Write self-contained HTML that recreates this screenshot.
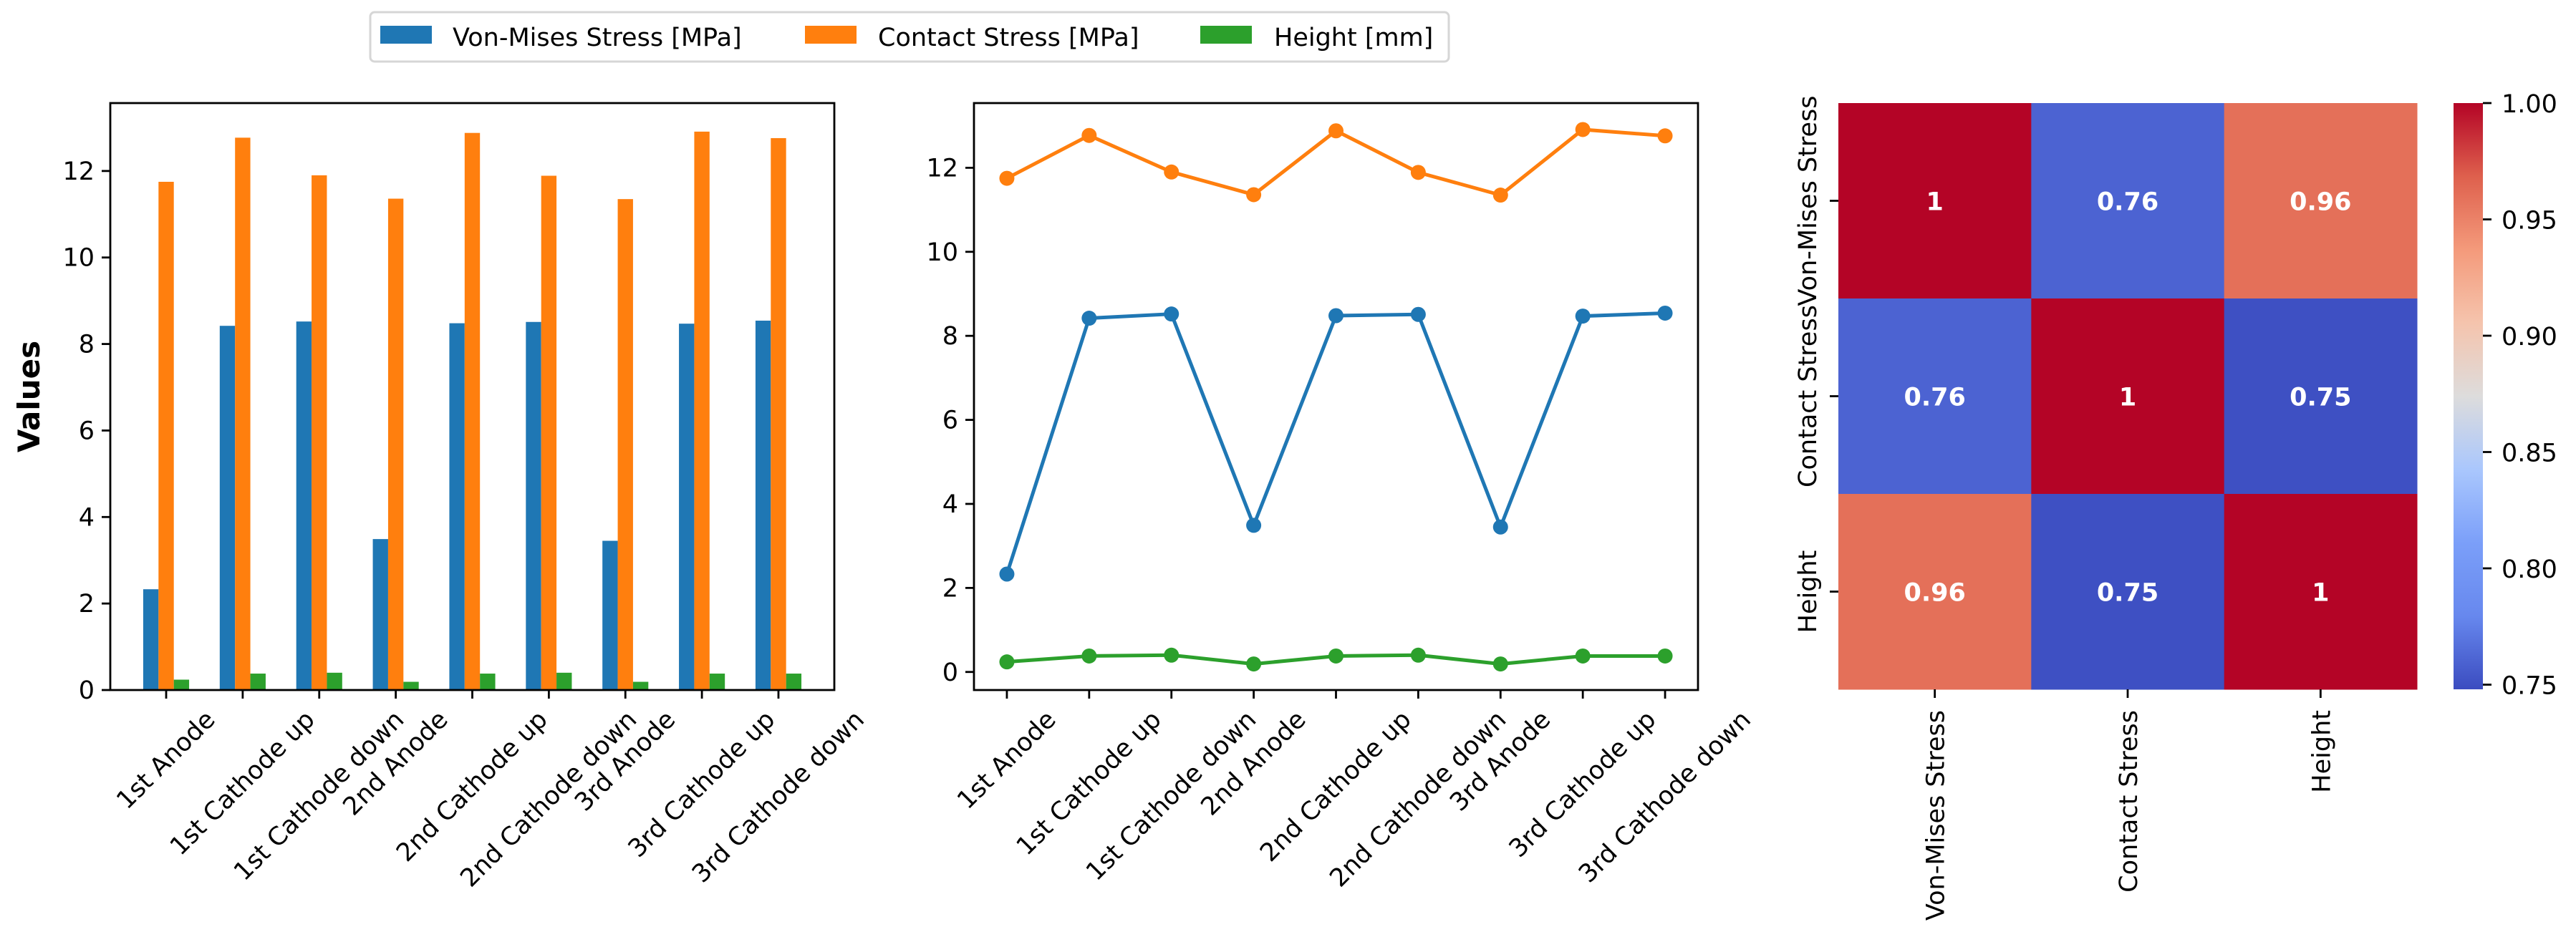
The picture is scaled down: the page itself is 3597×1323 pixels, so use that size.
<!DOCTYPE html>
<html><head><meta charset="utf-8"><style>
html,body{margin:0;padding:0;background:#fff;}
svg{display:block;font-family:"DejaVu Sans","Liberation Sans",sans-serif;}
</style></head><body>
<svg id="fig" width="3597" height="1323" viewBox="0 0 3597 1323" xmlns="http://www.w3.org/2000/svg">
<defs>
<linearGradient id="cw" x1="0" y1="1" x2="0" y2="0">
<stop offset="0" stop-color="rgb(59,76,192)"/><stop offset="0.125" stop-color="rgb(103,136,238)"/><stop offset="0.25" stop-color="rgb(123,159,249)"/><stop offset="0.375" stop-color="rgb(170,199,253)"/><stop offset="0.5" stop-color="rgb(221,220,220)"/><stop offset="0.625" stop-color="rgb(245,196,173)"/><stop offset="0.75" stop-color="rgb(244,154,123)"/><stop offset="0.875" stop-color="rgb(222,96,77)"/><stop offset="1" stop-color="rgb(180,4,38)"/>
</linearGradient>
</defs>
<g>
<rect x="517" y="17" width="1506" height="69" rx="6" fill="#fff" stroke="#d6d6d6" stroke-width="3"/>
<rect x="531" y="36" width="72" height="25" fill="#1f77b4"/>
<text x="632" y="64" font-size="35">Von-Mises Stress [MPa]</text>
<rect x="1124" y="36" width="72" height="25" fill="#ff7f0e"/>
<text x="1226" y="64" font-size="35">Contact Stress [MPa]</text>
<rect x="1676" y="36" width="72" height="25" fill="#2ca02c"/>
<text x="1779" y="64" font-size="35">Height [mm]</text>
</g>
<g id="bar"></g>
<g id="line"></g>
<g id="heat"></g>
</svg>
<script>
const categories = ["1st Anode","1st Cathode up","1st Cathode down","2nd Anode","2nd Cathode up","2nd Cathode down","3rd Anode","3rd Cathode up","3rd Cathode down"];
const vonMises = [2.33,8.42,8.52,3.49,8.48,8.51,3.45,8.47,8.54];
const contact = [11.75,12.77,11.9,11.36,12.88,11.89,11.35,12.91,12.76];
const height = [0.24,0.38,0.4,0.19,0.38,0.4,0.19,0.38,0.38];
const yTicks = [0,2,4,6,8,10,12];
const corrLabels = ["Von-Mises Stress","Contact Stress","Height"];
const corr = [[1,0.76,0.96],[0.76,1,0.75],[0.96,0.75,1]];
const cbTicks = [0.75,0.80,0.85,0.90,0.95,1.00];

const NS="http://www.w3.org/2000/svg";
function mk(p,tag,at,txt){const e=document.createElementNS(NS,tag);for(const k in at)e.setAttribute(k,at[k]);if(txt!==undefined)e.textContent=txt;p.appendChild(e);return e;}
const colors=["#1f77b4","#ff7f0e","#2ca02c"];
const series=[vonMises,contact,height];
const names=["von-mises","contact","height"];

function axes(g,L,R,T,B,y0,y1,x0,x1,prefix){
  const ys=v=>B-(v-y0)/(y1-y0)*(B-T);
  const xs=i=>L+(i-x0)/(x1-x0)*(R-L);
  yTicks.forEach(t=>{
    const y=ys(t);
    const tk=mk(g,"line",{x1:L-12,x2:L,y1:y,y2:y,stroke:"#000","stroke-width":2.8});
    
    
    const lb=mk(g,"text",{x:L-22,y:y+12,"font-size":35,"text-anchor":"end"},String(t));
    
    
  });
  categories.forEach((c,i)=>{
    const x=xs(i);
    const tk=mk(g,"line",{x1:x,x2:x,y1:B,y2:B+12,stroke:"#000","stroke-width":2.8});
    
    
    const t=mk(g,"text",{"font-size":35,"text-anchor":"middle","dominant-baseline":"central"},c);
    
    
    const w=t.getComputedTextLength(),h=35*1.1;
    const cy=B+22+(w+h)/(2*Math.SQRT2);
    t.setAttribute("x",x);t.setAttribute("y",cy);
    t.setAttribute("transform",`rotate(-45 ${x} ${cy})`);
  });
  return {xs,ys};
}

// Bar chart
(function(){
  const g=document.getElementById("bar");
  const L=154,R=1165,T=144,B=964;
  const {xs,ys}=axes(g,L,R,T,B,0,13.57,-0.73,8.73);
  const bw=xs(0.2)-xs(0);
  series.forEach((s,k)=>{
    s.forEach((v,i)=>{
      const cx=xs(i+(k-1)*0.2);
      const r=mk(g,"rect",{x:cx-bw/2,y:ys(v),width:bw,height:ys(0)-ys(v),fill:colors[k]});
      
      
    });
  });
  const f=mk(g,"rect",{x:L,y:T,width:R-L,height:B-T,fill:"none",stroke:"#000","stroke-width":2.8});
  
  
  const yl=mk(g,"text",{x:55,y:554,"font-size":42,"font-weight":"bold","text-anchor":"middle",transform:"rotate(-90 55 554)"},"Values");
  
  
})();

// Line chart
(function(){
  const g=document.getElementById("line");
  const L=1360,R=2371,T=144,B=964;
  const {xs,ys}=axes(g,L,R,T,B,-0.43,13.54,-0.4,8.4);
  series.forEach((s,k)=>{
    const pl=mk(g,"polyline",{points:s.map((v,i)=>xs(i)+","+ys(v)).join(" "),fill:"none",stroke:colors[k],"stroke-width":5});
    
    
    s.forEach((v,i)=>{
      const c=mk(g,"circle",{cx:xs(i),cy:ys(v),r:10.5,fill:colors[k]});
      
      
    });
  });
  const f=mk(g,"rect",{x:L,y:T,width:R-L,height:B-T,fill:"none",stroke:"#000","stroke-width":2.8});
  
  
})();

// Heatmap
(function(){
  const g=document.getElementById("heat");
  const L=2567,R=3375,T=144,B=963;
  const vmin=0.748,vmax=1.0;
  const stops=[[0,[59,76,192]],[0.125,[103,136,238]],[0.25,[123,159,249]],[0.375,[170,199,253]],[0.5,[221,220,220]],[0.625,[245,196,173]],[0.75,[244,154,123]],[0.875,[222,96,77]],[1,[180,4,38]]];
  function cmap(v){let t=Math.max(0,Math.min(1,(v-vmin)/(vmax-vmin)));
    for(let i=1;i<stops.length;i++){if(t<=stops[i][0]){const a=stops[i-1],b=stops[i];const f=(t-a[0])/(b[0]-a[0]);
      return "rgb("+a[1].map((c,j)=>Math.round(c+(b[1][j]-c)*f)).join(",")+")";}}
    return "rgb(180,4,38)";}
  const n=corrLabels.length,cw=(R-L)/n,ch=(B-T)/n;
  corr.forEach((row,i)=>row.forEach((v,j)=>{
    const r=mk(g,"rect",{x:L+j*cw,y:T+i*ch,width:cw+0.5,height:ch+0.5,fill:cmap(v)});
    
    
    const t=mk(g,"text",{x:L+(j+0.5)*cw,y:T+(i+0.5)*ch+13,"font-size":35,"font-weight":"bold",fill:"#fff","text-anchor":"middle"},String(v));
    
    
  }));
  corrLabels.forEach((c,i)=>{
    const y=T+(i+0.5)*ch;
    const tk=mk(g,"line",{x1:L-12,x2:L,y1:y,y2:y,stroke:"#000","stroke-width":2.8});
    
    
    const t=mk(g,"text",{x:2536,y:y,"font-size":35,"text-anchor":"middle",transform:`rotate(-90 2536 ${y})`},c);
    
    
    const x=L+(i+0.5)*cw;
    const tk2=mk(g,"line",{x1:x,x2:x,y1:B,y2:B+12,stroke:"#000","stroke-width":2.8});
    
    
    const t2=mk(g,"text",{x:x+13,y:992,"font-size":35,"text-anchor":"end",transform:`rotate(-90 ${x+13} 992)`},c);
    
    
  });
  const cb=mk(g,"rect",{x:3426,y:T,width:41,height:B-T,fill:"url(#cw)"});
  
  
  cbTicks.forEach(t=>{
    const y=B-(t-vmin)/(vmax-vmin)*(B-T);
    const tk=mk(g,"line",{x1:3467,x2:3479,y1:y,y2:y,stroke:"#000","stroke-width":2.8});
    
    
    const lb=mk(g,"text",{x:3493,y:y+13,"font-size":35},t.toFixed(2));
    
    
  });
})();
</script>
</body></html>
